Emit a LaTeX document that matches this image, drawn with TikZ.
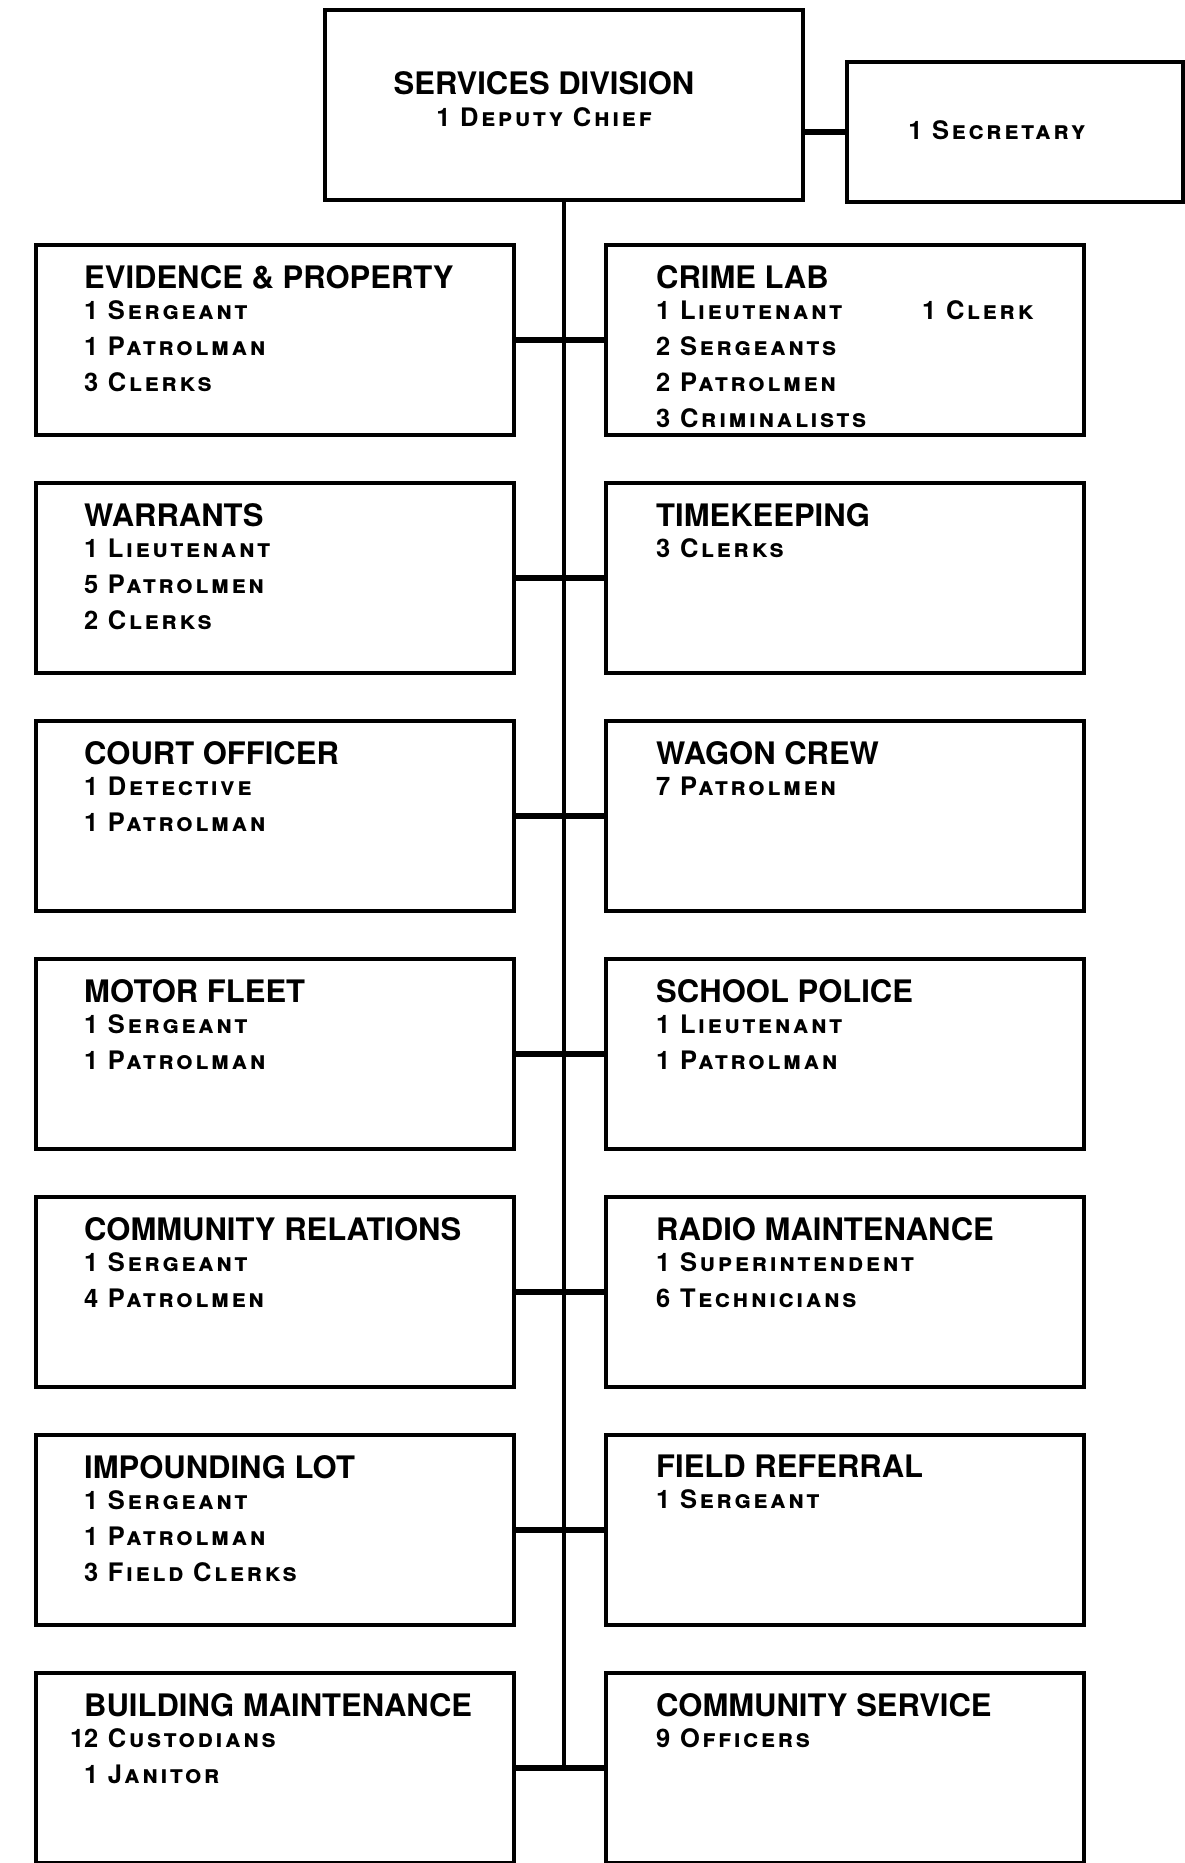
\documentclass[tikz,border=0pt]{standalone}
\usepackage{fontspec}
\setmainfont{TeX Gyre Heros}
\newfontfamily\titlefont{TeX Gyre Heros}
\newfontfamily\stafffont[LetterSpace=10]{TeX Gyre Heros}
\usetikzlibrary{positioning}
\tikzset{
  unitbox/.style={draw, line width=4pt, minimum width=478pt, minimum height=190pt, inner sep=0pt, outer sep=0pt},
  unittext/.style={align=left, inner sep=0pt, font=\stafffont\bfseries\scshape\fontsize{25.5}{36}\selectfont},
  link/.style={line width=6pt},
  trunk/.style={line width=3.5pt}
}
\newcommand\unitname[1]{{\titlefont\bfseries\fontsize{31}{36}\selectfont #1}}
\begin{document}
\begin{tikzpicture}[x=1pt,y=-1pt]
  \useasboundingbox (0,0) rectangle (1185,1863);
  %head of the division and its secretary
  \node[unitbox] (top) at (564,105) {};
  \node[unitbox, minimum width=336pt, minimum height=140pt] (sec) at (1015,132) {};
  \node[unittext, align=center, anchor=base] (toptext) at (544,126) {\unitname{SERVICES DIVISION}\\[-4pt] 1 Deputy Chief};
  \node[unittext, anchor=base] (sectext) at (997,139) {1 Secretary};
  %left column
  \node[unitbox] (evid) at (275,340) {};
  \node[unitbox, below=48pt of evid] (warr) {};
  \node[unitbox, below=48pt of warr] (court) {};
  \node[unitbox, below=48pt of court] (motor) {};
  \node[unitbox, below=48pt of motor] (commrel) {};
  \node[unitbox, below=48pt of commrel] (impound) {};
  \node[unitbox, below=48pt of impound] (bldg) {};
  %right column
  \node[unitbox, right=92pt of evid] (crime) {};
  \node[unitbox, right=92pt of warr] (time) {};
  \node[unitbox, right=92pt of court] (wagon) {};
  \node[unitbox, right=92pt of motor] (school) {};
  \node[unitbox, right=92pt of commrel] (radio) {};
  \node[unitbox, right=92pt of impound] (field) {};
  \node[unitbox, right=92pt of bldg] (commserv) {};
  %texts of the units
  \node[unittext, below right=20pt and 48pt of evid.north west] (evidtext) {\unitname{EVIDENCE \& PROPERTY}\\[-5pt] 1 Sergeant\\ 1 Patrolman\\ 3 Clerks};
  \node[unittext, below right=20pt and 48pt of warr.north west] (warrtext) {\unitname{WARRANTS}\\[-5pt] 1 Lieutenant\\ 5 Patrolmen\\ 2 Clerks};
  \node[unittext, below right=20pt and 48pt of court.north west] (courttext) {\unitname{COURT OFFICER}\\[-5pt] 1 Detective\\ 1 Patrolman};
  \node[unittext, below right=20pt and 48pt of motor.north west] (motortext) {\unitname{MOTOR FLEET}\\[-5pt] 1 Sergeant\\ 1 Patrolman};
  \node[unittext, below right=20pt and 48pt of commrel.north west] (commreltext) {\unitname{COMMUNITY RELATIONS}\\[-5pt] 1 Sergeant\\ 4 Patrolmen};
  \node[unittext, below right=20pt and 48pt of impound.north west] (impoundtext) {\unitname{IMPOUNDING LOT}\\[-5pt] 1 Sergeant\\ 1 Patrolman\\ 3 Field Clerks};
  \node[unittext, below right=20pt and 48pt of bldg.north west] (bldgtext) {\unitname{BUILDING MAINTENANCE}\\[-5pt] \llap{1}2 Custodians\\ 1 Janitor};
  \node[unittext, below right=20pt and 50pt of crime.north west] (crimetext) {\unitname{CRIME LAB}\\[-5pt] \makebox[266pt][l]{1 Lieutenant}1 Clerk\\ 2 Sergeants\\ 2 Patrolmen\\ 3 Criminalists};
  \node[unittext, below right=20pt and 50pt of time.north west] (timetext) {\unitname{TIMEKEEPING}\\[-5pt] 3 Clerks};
  \node[unittext, below right=20pt and 50pt of wagon.north west] (wagontext) {\unitname{WAGON CREW}\\[-5pt] 7 Patrolmen};
  \node[unittext, below right=20pt and 50pt of school.north west] (schooltext) {\unitname{SCHOOL POLICE}\\[-5pt] 1 Lieutenant\\ 1 Patrolman};
  \node[unittext, below right=20pt and 50pt of radio.north west] (radiotext) {\unitname{RADIO MAINTENANCE}\\[-5pt] 1 Superintendent\\ 6 Technicians};
  \node[unittext, below right=20pt and 50pt of field.north west] (fieldtext) {\unitname{FIELD REFERRAL}\\[-5pt] 1 Sergeant};
  \node[unittext, below right=20pt and 50pt of commserv.north west] (commservtext) {\unitname{COMMUNITY SERVICE}\\[-5pt] 9 Officers};
  %connectors
  \draw[link] (top.east |- sec.west) -- (sec.west);
  \draw[trunk] (top.south) -- (top.south |- bldg.east);
  \draw[link] (evid.east) -- (crime.west);
  \draw[link] (warr.east) -- (time.west);
  \draw[link] (court.east) -- (wagon.west);
  \draw[link] (motor.east) -- (school.west);
  \draw[link] (commrel.east) -- (radio.west);
  \draw[link] (impound.east) -- (field.west);
  \draw[link] (bldg.east) -- (commserv.west);
\end{tikzpicture}
\end{document}
